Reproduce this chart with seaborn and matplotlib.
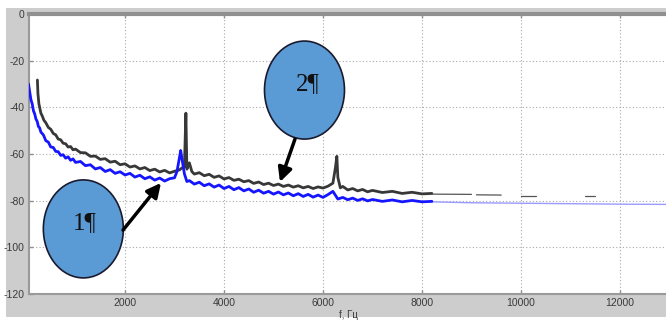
import matplotlib
matplotlib.use("Agg")
import matplotlib.pyplot as plt
from matplotlib.patches import Ellipse, Rectangle
import seaborn as sns
import pandas as pd

# ---------------- data ----------------
blue_freq = [50, 75, 100, 125, 150, 175, 200, 225, 250, 275, 300, 350, 400, 450, 500,
             550, 600, 650, 700, 750, 800, 850, 900, 950, 1000, 1100, 1200, 1300, 1400,
             1500, 1600, 1700, 1800, 1900, 2000, 2100, 2200, 2300, 2400, 2500, 2600,
             2700, 2800, 2900, 3000, 3050, 3100, 3125, 3150, 3200, 3250, 3300, 3400,
             3500, 3600, 3700, 3800, 3900, 4000, 4100, 4200, 4300, 4400, 4500, 4600,
             4700, 4800, 4900, 5000, 5100, 5200, 5300, 5400, 5500, 5600, 5700, 5800,
             5900, 6000, 6100, 6200, 6300, 6400, 6500, 6600, 6700, 6800, 6900, 7000,
             7200, 7400, 7600, 7800, 8000, 8200]
blue_level = [-30.0, -33.5, -36.8, -38.5, -41.5, -42.8, -45.0, -46.0, -48.2, -48.8,
              -50.6, -51.8, -54.3, -54.9, -57.0, -57.2, -58.9, -59.0, -60.6, -60.3,
              -61.8, -61.2, -62.7, -62.1, -63.6, -63.2, -65.0, -64.6, -66.4, -65.8,
              -67.5, -66.7, -68.3, -67.6, -69.0, -68.3, -69.9, -69.1, -70.6, -69.8,
              -71.2, -70.3, -71.6, -70.6, -70.2, -67.5, -61.5, -58.5, -62.0, -68.5,
              -71.8, -71.4, -72.9, -72.1, -73.6, -72.8, -74.2, -73.3, -74.8, -73.9,
              -75.3, -74.4, -75.8, -75.0, -76.4, -75.5, -76.8, -76.0, -77.2, -76.3,
              -77.5, -76.7, -77.9, -77.0, -78.2, -77.3, -78.5, -77.6, -78.6, -77.4,
              -76.0, -79.3, -78.6, -79.6, -78.9, -79.9, -79.2, -80.1, -79.5, -80.3,
              -79.7, -80.5, -79.9, -80.5, -80.3]

blue_tail_freq = [8200, 9000, 10000, 11000, 12000, 12930]
blue_tail_level = [-80.5, -80.9, -81.1, -81.3, -81.5, -81.6]

black_freq = [230, 240, 260, 280, 300, 330, 360, 400, 450, 500, 550, 600, 650, 700,
              750, 800, 850, 900, 950, 1000, 1100, 1200, 1300, 1400, 1500, 1600, 1700,
              1800, 1900, 2000, 2100, 2200, 2300, 2400, 2500, 2600, 2700, 2800, 2900,
              3000, 3100, 3150, 3200, 3220, 3230, 3240, 3250, 3300, 3350, 3400, 3500,
              3600, 3700, 3800, 3900, 4000, 4100, 4200, 4300, 4400, 4500, 4600, 4700,
              4800, 4900, 5000, 5100, 5200, 5300, 5400, 5500, 5600, 5700, 5800, 5900,
              6000, 6100, 6200, 6250, 6280, 6300, 6350, 6400, 6500, 6600, 6700, 6800,
              6900, 7000, 7200, 7400, 7600, 7800, 8000, 8200]
black_level = [-28.3, -34.0, -38.5, -40.5, -42.5, -43.8, -45.5, -46.6, -48.6, -49.4,
               -51.2, -51.8, -53.6, -53.9, -55.4, -55.6, -57.0, -56.8, -58.2, -57.9,
               -59.4, -59.5, -61.0, -60.9, -62.3, -62.0, -63.5, -63.1, -64.6, -64.2,
               -65.6, -65.1, -66.4, -65.8, -67.1, -66.5, -67.7, -67.0, -68.1, -67.4,
               -66.8, -66.0, -65.5, -50.0, -42.5, -55.0, -66.5, -63.8, -67.5, -68.6,
               -68.0, -69.3, -68.7, -70.0, -69.4, -70.7, -70.1, -71.3, -70.8, -71.9,
               -71.4, -72.6, -72.0, -73.1, -72.5, -73.5, -72.9, -73.9, -73.3, -74.2,
               -73.6, -74.5, -73.9, -74.8, -74.1, -74.6, -73.8, -72.5, -66.0, -61.0,
               -70.0, -74.5, -73.9, -75.4, -74.8, -75.8, -75.2, -76.2, -75.6, -76.5,
               -76.0, -76.9, -76.4, -77.1, -76.9]

black_tail_seg = [1, 1, 2, 2, 3, 3, 4, 4]
black_tail_freq = [8200, 9000, 9100, 9600, 10000, 10300, 11300, 11500]
black_tail_level = [-77.2, -77.3, -77.5, -77.6, -77.8, -77.8, -78.2, -78.2]

x_ticks = [2000, 4000, 6000, 8000, 10000, 12000]
y_ticks = [0, -20, -40, -60, -80, -100, -120]
x_label = "f, Гц"

# ---------------- figure ----------------
sns.set_theme(style="white")
plt.rcParams['font.family'] = ['Liberation Sans', 'DejaVu Sans']

W, H = 666, 321
fig = plt.figure(figsize=(W / 100, H / 100), dpi=100, facecolor="white")
fig.patches.append(Rectangle((6 / W, 4 / H), 1 - 6 / W, (H - 12) / H,
                             transform=fig.transFigure, facecolor="#cdcdcd",
                             edgecolor="none", zorder=-10))

ax = fig.add_axes([29 / W, 27 / H, 1 - 29 / W, 280 / H])
ax.set_facecolor("white")

df_black = pd.DataFrame({"f": black_freq, "v": black_level})
df_blue = pd.DataFrame({"f": blue_freq, "v": blue_level})
df_blue_tail = pd.DataFrame({"f": blue_tail_freq, "v": blue_tail_level})
df_black_tail = pd.DataFrame({"f": black_tail_freq, "v": black_tail_level,
                              "seg": black_tail_seg})

sns.lineplot(data=df_black, x="f", y="v", ax=ax, color="#383838", lw=2.0,
             sort=False, estimator=None, zorder=3)
sns.lineplot(data=df_black_tail, x="f", y="v", units="seg", ax=ax, color="#555555",
             lw=0.9, sort=False, estimator=None, zorder=3)
sns.lineplot(data=df_blue_tail, x="f", y="v", ax=ax, color="#9a9aff", lw=1.0,
             sort=False, estimator=None, zorder=3)
sns.lineplot(data=df_blue, x="f", y="v", ax=ax, color="#1515ff", lw=2.0,
             sort=False, estimator=None, zorder=4)

ax.set_xlim(60, 12930)
ax.set_ylim(-120, 0)
ax.set_xticks(x_ticks)
ax.set_yticks(y_ticks)
ax.set_xticklabels([str(t) for t in x_ticks])
ax.set_yticklabels([str(t) for t in y_ticks])
ax.set_xlabel("")
ax.set_ylabel("")
ax.grid(True, linestyle=(0, (1, 2)), color="#a8a8a8", lw=0.8)
ax.tick_params(direction="in", length=3, width=1, color="#909090",
               labelsize=7.5, labelcolor="#3a3a3a", pad=3, top=True, right=False,
               bottom=True, left=True)
for side in ["left", "bottom"]:
    ax.spines[side].set_color("#9a9a9a")
    ax.spines[side].set_linewidth(1.5)
ax.spines["top"].set_color("#909090")
ax.spines["top"].set_linewidth(3)
ax.spines["right"].set_visible(False)

fig.text(348 / W, 6 / H, x_label, ha="center", va="center", fontsize=7,
         color="#3a3a3a")

# ---------------- annotations ----------------
def bubble(cx, cy, label, tx, ty, ax_from, ay_from, ax_to, ay_to):
    e = Ellipse((cx, cy), 1616, 42, facecolor="#5b9bd5", edgecolor="#1a1a2e",
                lw=1.2, zorder=6)
    ax.add_patch(e)
    ax.text(tx, ty, label, ha="center", va="center", fontsize=18,
            family=["Liberation Serif", "DejaVu Serif"], color="#111111", zorder=7)
    ax.annotate("", xy=(ax_to, ay_to), xytext=(ax_from, ay_from),
                arrowprops=dict(arrowstyle="-|>,head_width=0.35,head_length=0.7",
                                color="black", lw=2.5, shrinkA=0, shrinkB=0),
                zorder=6)

bubble(1158, -92.1, "1¶", 1192, -89.6, 1960, -92.6, 2727, -72.4)
bubble(5626, -32.6, "2¶", 5700, -30.0, 5434, -53.6, 5131, -72.0)

fig.savefig("out.png", dpi=100, facecolor=fig.get_facecolor())
